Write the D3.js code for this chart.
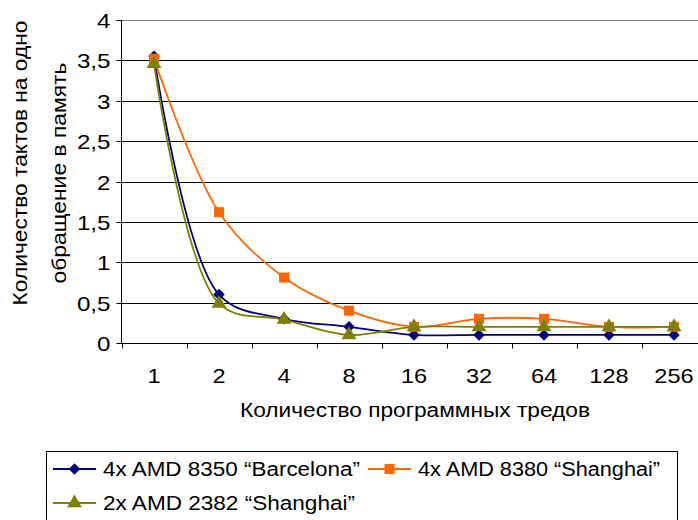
<!DOCTYPE html>
<html><head><meta charset="utf-8">
<script src="https://cdn.jsdelivr.net/npm/d3@7"></script>
<style>
html,body{margin:0;padding:0;background:#fff;}
svg{display:block;}
text{font-family:"Liberation Sans",Arial,sans-serif;fill:#000;}
</style></head>
<body>
<script>
const categories = ["1","2","4","8","16","32","64","128","256"];
const barcelona8350 = [3.55,0.60,0.30,0.20,0.10,0.10,0.10,0.10,0.10];
const shanghai8380 = [3.52,1.62,0.81,0.40,0.20,0.30,0.30,0.20,0.20];
const shanghai2382 = [3.46,0.49,0.29,0.10,0.20,0.20,0.20,0.20,0.20];
const yTicks = [0,0.5,1,1.5,2,2.5,3,3.5,4];
const seriesNames = ["4x AMD 8350 \u201cBarcelona\u201d","4x AMD 8380 \u201cShanghai\u201d","2x AMD 2382 \u201cShanghai\u201d"];
const yTitle = ["Количество тактов на одно","обращение в память"];
const xTitle = "Количество программных тредов";

const W=698,H=520;
const svg=d3.select("body").append("svg").attr("width",W).attr("height",H);
const x=d3.scaleBand().domain(categories).range([121.5,706.5]);
const y=d3.scaleLinear().domain([0,4]).range([343,20]);

function stretch(sel,f){
  sel.each(function(){const w=this.getComputedTextLength();
    d3.select(this).attr("textLength",w*f).attr("lengthAdjust","spacingAndGlyphs");});
}
function fitTo(sel,len){sel.attr("textLength",len).attr("lengthAdjust","spacingAndGlyphs");}

// gridlines
svg.append("g").selectAll("line").data(yTicks.filter(d=>d>0)).join("line")
  .attr("x1",121.5).attr("x2",W).attr("y1",d=>Math.round(y(d))+0.5).attr("y2",d=>Math.round(y(d))+0.5)
  .attr("stroke",d=>d===4?"#808080":"#000").attr("stroke-width",1);

// y axis
const yAxis=svg.append("g").attr("transform","translate(121.5,0)")
  .call(d3.axisLeft(y).tickValues(yTicks).tickSize(5).tickPadding(6)
    .tickFormat(d=>String(d).replace(".",",")));
yAxis.selectAll("path,line").attr("stroke","#000");
yAxis.selectAll(".tick").attr("transform",d=>`translate(0,${Math.round(y(d))+0.5})`);
yAxis.select("path").attr("d","M0,20V343.5");
yAxis.selectAll("text").attr("font-size",21).attr("dy","0.36em").attr("font-family","Liberation Sans, Arial, sans-serif");
stretch(yAxis.selectAll("text"),1.15);

// x axis
const xAxis=svg.append("g").attr("transform","translate(0,343.5)");
xAxis.append("line").attr("x1",121.5).attr("x2",W).attr("y1",0).attr("y2",0).attr("stroke","#000");
xAxis.selectAll("line.tk").data(d3.range(categories.length+1)).join("line").attr("class","tk")
  .attr("x1",i=>Math.round(121.5+x.step()*i)+0.5).attr("x2",i=>Math.round(121.5+x.step()*i)+0.5)
  .attr("y1",0).attr("y2",5).attr("stroke","#000");
const xl=xAxis.selectAll("text").data(categories).join("text")
  .attr("x",d=>x(d)+x.bandwidth()/2).attr("y",39.5).attr("text-anchor","middle")
  .attr("font-size",21).text(d=>d);
stretch(xl,1.12);

// titles
const xt=svg.append("text").attr("x",415).attr("y",417).attr("text-anchor","middle").attr("font-size",20).text(xTitle);
fitTo(xt,350);
const yLens=[285,221], yCen=[163,173], yBase=[27,66];
yTitle.forEach((t,i)=>{
  const tt=svg.append("text").attr("transform",`translate(${yBase[i]},${yCen[i]}) rotate(-90)`)
    .attr("text-anchor","middle").attr("font-size",20).text(t);
  fitTo(tt,yLens[i]);
});

// series
const series=[
  {name:seriesNames[0],values:barcelona8350,color:"#000080",shape:"diamond"},
  {name:seriesNames[1],values:shanghai8380,color:"#FF6600",shape:"square"},
  {name:seriesNames[2],values:shanghai2382,color:"#808000",shape:"triangle"}
];
const line=d3.line().x((d,i)=>x(categories[i])+x.bandwidth()/2).y(d=>y(d)).curve(d3.curveCatmullRom.alpha(0.5));
const sym={diamond:d3.symbol().type(d3.symbolDiamond2).size(85),
  square:d3.symbol().type(d3.symbolSquare).size(100),
  triangle:d3.symbol().type(d3.symbolTriangle).size(95)};
series.forEach(s=>{
  svg.append("path").attr("d",line(s.values)).attr("fill","none").attr("stroke",s.color).attr("stroke-width",1.8);
});
series.forEach(s=>{
  svg.append("g").selectAll("path").data(s.values).join("path")
    .attr("transform",(d,i)=>`translate(${x(categories[i])+x.bandwidth()/2},${y(d)})`)
    .attr("d",sym[s.shape]()).attr("fill",s.color);
});

// legend
const lg=svg.append("g");
lg.append("rect").attr("x",46.5).attr("y",451.5).attr("width",631).attr("height",100).attr("fill","#fff").attr("stroke","#000");
const legPos=[[53,469],[368,469],[53,503]];
const legLens=[257,242,252];
series.forEach((s,i)=>{
  const [lx,ly]=legPos[i];
  lg.append("line").attr("x1",lx).attr("x2",lx+43).attr("y1",ly).attr("y2",ly).attr("stroke",s.color).attr("stroke-width",1.8);
  lg.append("path").attr("transform",`translate(${lx+21.5},${ly})`).attr("d",sym[s.shape]()).attr("fill",s.color);
  const t=lg.append("text").attr("x",lx+50).attr("y",ly).attr("dy","0.36em").attr("font-size",20).text(s.name);
  fitTo(t,legLens[i]);
});
</script>
</body></html>
